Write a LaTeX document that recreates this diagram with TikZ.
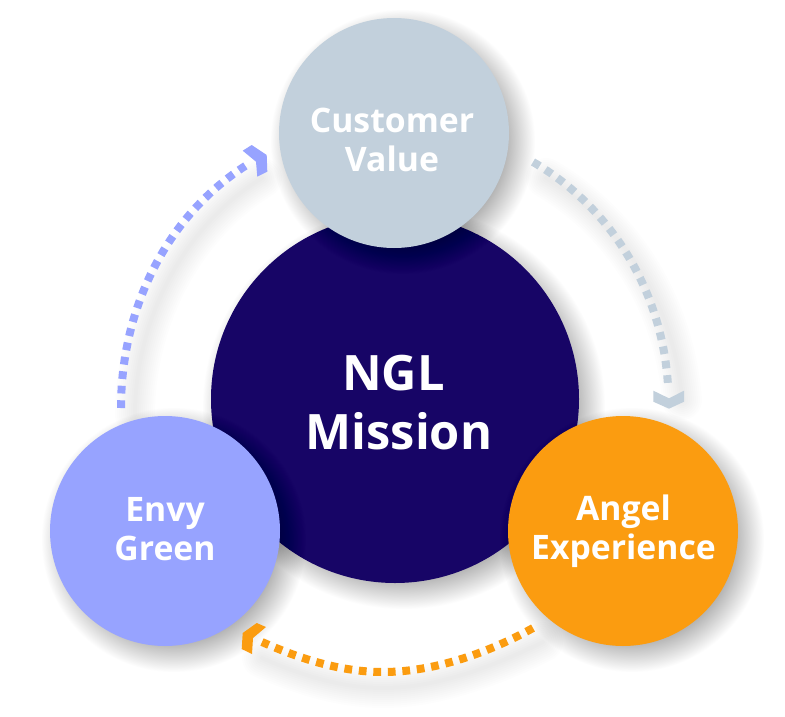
\documentclass[tikz,border=0pt]{standalone}
\usepackage{fontspec}
\setmainfont{Open Sans}
\definecolor{navy}{HTML}{170566}
\definecolor{peri}{HTML}{97A3FF}
\definecolor{steel}{HTML}{C2D0DC}
\definecolor{amber}{HTML}{FB9C10}
\usetikzlibrary{calc}
\newcommand{\softshadow}[2]{%
  \foreach \i in {1,...,40}{\fill[black,opacity=.0095] ($(#1)+(9,9)$) circle[radius={(#2+18-32*(\i/40))*0.75pt}];}}
\newcommand{\softline}[1]{%
  \foreach \i in {1,...,10}{\draw[black,opacity=.008,line cap=round,line width={(4*\i)*0.75pt}] #1;}}
\tikzset{
  x=0.75pt,y=-0.75pt,
  disc/.style={circle,minimum size=#1*0.75pt,inner sep=0pt,outer sep=0pt,text=white,align=center},
  small/.style={font=\fontsize{25.3pt}{29.2pt}\selectfont\bfseries},
  big/.style={font=\fontsize{36.6pt}{44.2pt}\selectfont\bfseries},
  dots/.style={line width=6pt,dash pattern=on 5.8pt off 5.1pt},
}
\begin{document}
\begin{tikzpicture}
\useasboundingbox (0,0) rectangle (785,717);
\fill[white] (0,0) rectangle (785,717);
\coordinate (aS) at (533,162);\coordinate (aE) at (668,386);
\coordinate (bS) at (533,628);\coordinate (bM) at (383,672);\coordinate (bE) at (262,642);
\coordinate (cS) at (121,408);\coordinate (cE) at (250,163);
% arrow shadows
\softline{(546,178) .. controls (626,225) and (675,309) .. (682,400)}
\softline{(543,642) .. controls (490,668) and (435,688) .. (383,688) .. controls (340,688) and (298,674) .. (262,658)}
\softline{(135,415) .. controls (135,322) and (182,227) .. (262,178)}
% circles
\coordinate (pm) at (395,399);\coordinate (pc) at (394,133);\coordinate (pe) at (165,531);\coordinate (pa) at (623,531);
\softshadow{pm}{184}
\node[disc=368,fill=navy] (mission) at (pm) {};
\node[big,text=white,align=center] at (399,403) {\mbox{NGL\kern8.25pt}\\Mission};
\softshadow{pc}{115}
\node[disc=230,fill=steel] (customer) at (pc) {};
\node[small,text=white,align=center] at (392,139.5) {Customer\\Value};
\softshadow{pe}{115}
\node[disc=230,fill=peri] (envy) at (pe) {};
\node[small,text=white,align=center] at (165,529) {Envy\\Green};
\softshadow{pa}{115}
\node[disc=230,fill=amber] (angel) at (pa) {};
\node[small,text=white,align=center] at (623.5,531) {Angel\\Experience};
% connectors
\draw[steel,dots] (aS) .. controls (614,209) and (663,295) .. (aE);
\fill[steel] (653.3,390.7) -- (669,398.3) -- (684,390.7) -- (684,401.7) -- (669,408.7) -- (653.3,401.7) -- cycle;
\draw[amber,dots] (bS) .. controls (490,652) and (435,672) .. (bM) .. controls (340,672) and (298,658) .. (bE);
\fill[amber] (256.7,623) -- (266,627) -- (253,638) -- (252,654) -- (241.7,649) -- (242.7,633) -- cycle;
\draw[peri,dots] (cS) .. controls (121,307) and (168,213) .. (cE);
\fill[peri] (251.7,145) -- (266.7,155) -- (267.3,171.7) -- (257.3,176.7) -- (256,161.7) -- (242.7,150.7) -- cycle;
\end{tikzpicture}
\end{document}
